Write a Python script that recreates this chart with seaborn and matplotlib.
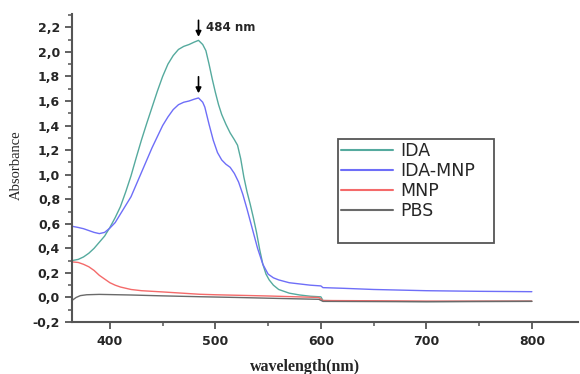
import numpy as np
import pandas as pd
import matplotlib
matplotlib.use("Agg")
import matplotlib.pyplot as plt
from matplotlib.patches import Rectangle
import seaborn as sns
from matplotlib.ticker import MultipleLocator, FuncFormatter

sns.set_style("ticks")
plt.rcParams["font.family"] = ["DejaVu Sans"]

# UV-Vis absorbance spectra (wavelength in nm, absorbance)
wl_ida = [364, 370, 375, 380, 385, 390, 395, 400, 405, 410, 415, 420, 425, 430, 435, 440,
          445, 450, 455, 460, 465, 470, 475, 480, 484, 488, 491, 494, 497, 500, 503, 506,
          510, 514, 518, 521, 524, 527, 530, 533, 536, 539, 542, 545, 548, 551, 555, 560,
          570, 580, 590, 600, 602, 620, 650, 700, 750, 800]
ida = [0.30, 0.31, 0.33, 0.36, 0.40, 0.45, 0.50, 0.57, 0.65, 0.74, 0.86, 0.99, 1.14, 1.285,
       1.42, 1.55, 1.68, 1.80, 1.90, 1.97, 2.02, 2.045, 2.06, 2.08, 2.094, 2.06, 2.01, 1.90,
       1.78, 1.67, 1.57, 1.49, 1.41, 1.34, 1.285, 1.24, 1.13, 0.98, 0.86, 0.76, 0.65, 0.53,
       0.39, 0.27, 0.19, 0.143, 0.10, 0.065, 0.035, 0.02, 0.01, 0.005, -0.025, -0.028, -0.03,
       -0.033, -0.031, -0.03]

wl_ida_mnp = [364, 370, 375, 380, 385, 390, 395, 400, 405, 410, 415, 420, 425, 430, 435, 440,
              445, 450, 455, 460, 465, 470, 475, 480, 484, 488, 490, 494, 498, 502, 506, 510,
              514, 518, 522, 526, 530, 535, 540, 545, 550, 555, 560, 570, 580, 590, 600, 602,
              620, 650, 700, 750, 800]
ida_mnp = [0.58, 0.57, 0.56, 0.545, 0.53, 0.52, 0.53, 0.565, 0.61, 0.68, 0.75, 0.82, 0.92,
           1.02, 1.12, 1.22, 1.31, 1.40, 1.47, 1.53, 1.57, 1.59, 1.60, 1.615, 1.625, 1.59,
           1.55, 1.41, 1.28, 1.18, 1.12, 1.085, 1.06, 1.01, 0.94, 0.84, 0.72, 0.56, 0.40,
           0.27, 0.19, 0.16, 0.143, 0.12, 0.11, 0.10, 0.094, 0.08, 0.075, 0.065, 0.055, 0.05,
           0.047]

wl_mnp = [364, 370, 375, 380, 385, 390, 395, 400, 405, 410, 420, 430, 450, 485, 500, 550,
          598, 602, 650, 700, 800]
mnp = [0.29, 0.285, 0.27, 0.25, 0.22, 0.18, 0.15, 0.12, 0.10, 0.085, 0.065, 0.055, 0.045,
       0.026, 0.022, 0.012, 0.0, -0.025, -0.027, -0.03, -0.03]

wl_pbs = [364, 368, 372, 378, 390, 420, 450, 485, 520, 560, 598, 602, 700, 800]
pbs = [-0.025, 0.0, 0.015, 0.022, 0.025, 0.02, 0.013, 0.006, 0.0, -0.008, -0.015, -0.032,
       -0.035, -0.032]

series = ["IDA", "IDA-MNP", "MNP", "PBS"]
palette = {"IDA": "#55aa9e", "IDA-MNP": "#6e6ef8", "MNP": "#f46a6a", "PBS": "#6a6a6a"}

df = pd.concat([
    pd.DataFrame({"wavelength": w, "absorbance": a, "sample": s})
    for w, a, s in [(wl_ida, ida, "IDA"), (wl_ida_mnp, ida_mnp, "IDA-MNP"),
                    (wl_mnp, mnp, "MNP"), (wl_pbs, pbs, "PBS")]
], ignore_index=True)

fig = plt.figure(figsize=(5.8, 3.74), dpi=100)
ax = fig.add_axes([0.124, 0.139, 0.873, 0.824])

sns.lineplot(data=df, x="wavelength", y="absorbance", hue="sample",
             hue_order=series, palette=palette, linewidth=1.0, ax=ax, estimator=None)

ax.set_xlim(364, 844)
ax.set_ylim(-0.2, 2.31)
ax.xaxis.set_major_locator(MultipleLocator(100))
ax.xaxis.set_minor_locator(MultipleLocator(50))
ax.yaxis.set_major_locator(MultipleLocator(0.2))
ax.yaxis.set_minor_locator(MultipleLocator(0.1))
ax.yaxis.set_major_formatter(
    FuncFormatter(lambda v, p: f"{v:.1f}".replace(".", ",").replace("-0,0", "0,0")))

for sp in ["top", "right"]:
    ax.spines[sp].set_visible(False)
for sp in ["left", "bottom"]:
    ax.spines[sp].set_color("#555555")
    ax.spines[sp].set_linewidth(1.5)
ax.tick_params(which="major", length=5, width=1.3, color="#555555", labelsize=9)
ax.tick_params(which="minor", length=3, width=1.1, color="#555555")
ax.tick_params(axis="x", pad=4.5)
ax.tick_params(axis="y", pad=3.5)
for lab in ax.get_xticklabels() + ax.get_yticklabels():
    lab.set_fontweight("bold")

ax.set_xlabel("wavelength(nm)", family="Liberation Serif", fontsize=11.5, fontweight="bold")
ax.xaxis.set_label_coords(0.46, -0.146)
ax.xaxis.label.set_va("center")
ax.set_ylabel("Absorbance", family="Liberation Serif", fontsize=10.5)
ax.yaxis.set_label_coords(-0.109, 0.51)
ax.yaxis.label.set_va("center")

leg = ax.legend(title=None, loc="upper left", bbox_to_anchor=(0.532, 0.584),
                fontsize=12.5, handlelength=3.0, handletextpad=0.4, borderpad=0,
                labelspacing=0.11, frameon=False, borderaxespad=0)
for h in leg.get_lines():
    h.set_linewidth(1.5)
ax.add_patch(Rectangle((0.526, 0.256), 0.308, 0.338, transform=ax.transAxes,
                       fill=False, edgecolor="#555555", linewidth=1.3, zorder=5))

# peak markers
ax.annotate("", xy=(484, 2.10), xytext=(484, 2.28),
            arrowprops=dict(arrowstyle="-|>", color="black", lw=1.2, mutation_scale=8))
ax.annotate("", xy=(484, 1.64), xytext=(484, 1.82),
            arrowprops=dict(arrowstyle="-|>", color="black", lw=1.2, mutation_scale=8))
ax.text(491, 2.20, "484 nm", fontsize=8.5, fontweight="bold", va="center", ha="left")

fig.savefig("out.png", dpi=100)
